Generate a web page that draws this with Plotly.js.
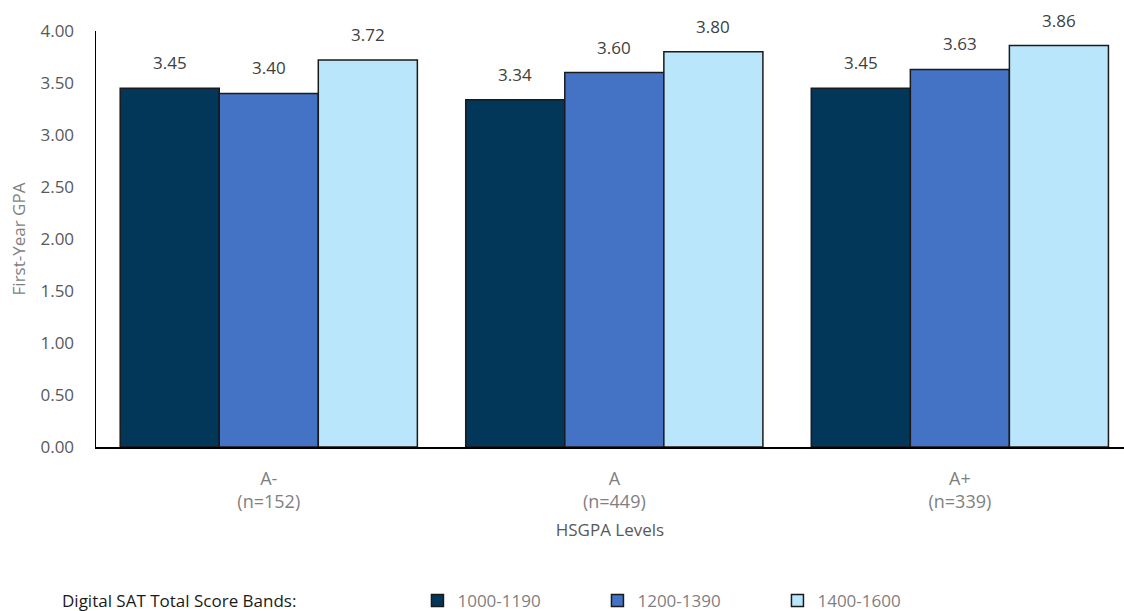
<!DOCTYPE html>
<html>
<head>
<meta charset="utf-8">
<script src="https://cdn.plot.ly/plotly-3.0.1.min.js"></script>
<style>html,body{margin:0;padding:0;background:#fff;}#chart{width:1124px;height:611px;}</style>
</head>
<body>
<div id="chart"></div>
<script>
const categories = ["A-<br>(n=152)", "A<br>(n=449)", "A+<br>(n=339)"];
const seriesNames = ["1000-1190", "1200-1390", "1400-1600"];
const band1000 = [3.45, 3.34, 3.45];
const band1200 = [3.40, 3.60, 3.63];
const band1400 = [3.72, 3.80, 3.86];
const yTicks = [0, 0.5, 1, 1.5, 2, 2.5, 3, 3.5, 4];
const colors = ["#03375A", "#4472C4", "#B9E6FB"];

const font = "Open Sans, Noto Sans, sans-serif";
const values = [band1000, band1200, band1400];
const bargap = 0.14;
const barW = (1 - bargap) / values.length;

const traces = values.map((v, i) => ({
  type: "bar",
  name: seriesNames[i],
  x: categories,
  y: v,
  marker: {color: colors[i], line: {color: "#1a1a1a", width: 1.5}},
  hoverinfo: "skip"
}));

// value labels placed through the axis scales (category index + group offset)
const labelAnns = [];
values.forEach((v, i) => {
  v.forEach((val, j) => {
    labelAnns.push({
      xref: "x", yref: "y",
      x: j + (i - (values.length - 1) / 2) * barW,
      y: val,
      text: val.toFixed(2),
      showarrow: false,
      yanchor: "bottom",
      yshift: 12,
      font: {family: font, size: 17, color: "#404040"}
    });
  });
});

const layout = {
  width: 1124, height: 611,
  margin: {l: 96, r: 0, t: 31, b: 164, autoexpand: false},
  paper_bgcolor: "#fff", plot_bgcolor: "#fff",
  barmode: "group",
  bargap: bargap,
  bargroupgap: 0,
  showlegend: true,
  font: {family: font, color: "#595959"},
  xaxis: {
    type: "category",
    range: [-0.5, 2.475],
    showline: true, linecolor: "#000", linewidth: 2,
    ticks: "", showgrid: false, zeroline: false,
    ticklabelstandoff: 14,
    tickfont: {family: font, size: 18, color: "#7f7f7f"},
    title: {text: "HSGPA Levels", font: {family: font, size: 17, color: "#595959"}, standoff: 12}
  },
  yaxis: {
    range: [0, 4], tickvals: yTicks, tickformat: ".2f",
    showline: true, linecolor: "#000", linewidth: 1.5,
    ticks: "", showgrid: false, zeroline: false,
    ticklabelstandoff: 17,
    tickfont: {family: font, size: 17, color: "#595959"},
    title: {text: "First-Year GPA", font: {family: font, size: 17, color: "#7f7f7f"}, standoff: 10}
  },
  legend: {
    orientation: "h",
    x: 0.3127, xanchor: "left", y: -0.37, yanchor: "middle",
    entrywidth: 135, entrywidthmode: "pixels",
    font: {family: font, size: 17, color: "#7f7f7f"},
    itemwidth: 30
  },
  annotations: labelAnns.concat([{
    xref: "paper", yref: "paper",
    x: -0.035, y: -0.37, xanchor: "left", yanchor: "middle",
    text: "Digital SAT Total Score Bands:", showarrow: false,
    font: {family: font, size: 17, color: "#1a1a1a"}
  }])
};

Plotly.newPlot("chart", traces, layout, {displayModeBar: false, staticPlot: true});
</script>
</body>
</html>
